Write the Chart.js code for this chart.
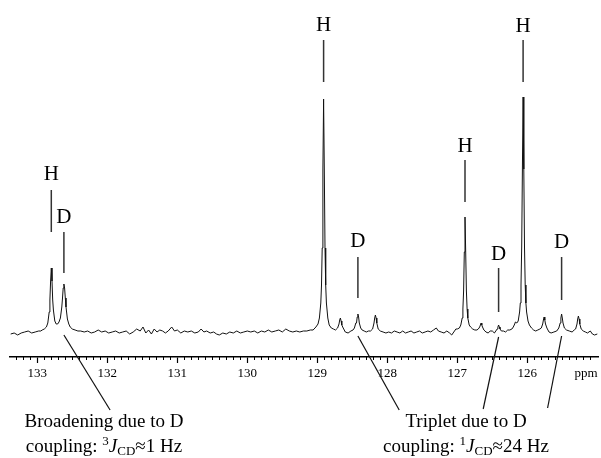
<!DOCTYPE html>
<html>
<head>
<meta charset="utf-8">
<script src="https://cdn.jsdelivr.net/npm/chart.js@4/dist/chart.umd.min.js"></script>
<style>
html,body{margin:0;padding:0;background:#fff;}
#wrap{width:601px;height:458px;}
</style>
</head>
<body>
<div id="wrap"><canvas id="c" width="601" height="458"></canvas></div>
<script>
// ---- data (chemical shift in ppm, intensity in arbitrary units) ----
const shiftPpm = [
133.38,133.33,133.28,133.23,133.18,133.13,133.08,133.03,132.98,132.95,
132.93,132.90,132.87,132.85,132.83,132.82,132.81,132.80,132.79,132.78,132.77,132.75,132.73,132.71,132.69,132.67,132.65,132.64,132.63,132.62,132.61,132.60,132.59,132.57,132.55,132.53,132.50,132.46,132.42,
132.38,132.33,132.28,132.23,132.18,132.13,132.08,132.03,131.98,131.93,131.88,131.83,131.78,131.73,131.68,131.63,131.58,131.53,131.49,131.45,131.41,131.37,131.33,131.29,131.25,131.21,131.17,131.13,131.08,131.04,131.00,
130.95,130.90,130.85,130.80,130.75,130.70,130.66,130.62,130.58,130.53,130.48,130.44,130.40,130.35,130.30,130.25,130.20,130.15,130.10,130.05,130.00,
129.95,129.90,129.85,129.80,129.75,129.70,129.65,129.60,129.55,129.50,129.45,129.40,129.35,129.30,129.25,129.20,129.15,129.10,129.06,
129.02,128.99,128.97,128.95,128.94,128.93,128.92,128.91,128.90,128.89,128.88,128.87,128.85,128.83,128.80,128.77,128.74,128.71,128.69,128.68,128.67,128.66,128.65,128.63,128.60,128.56,
128.52,128.49,128.47,128.45,128.44,128.43,128.42,128.41,128.40,128.38,128.36,128.33,128.30,128.27,128.24,128.21,128.19,128.18,128.17,128.16,128.15,128.13,128.10,128.06,128.02,
127.98,127.94,127.90,127.86,127.82,127.78,127.74,127.70,127.66,127.62,127.58,127.54,127.50,127.46,127.42,127.38,127.34,127.30,127.27,127.23,127.19,127.15,127.11,127.08,127.05,127.02,
127.00,126.97,126.95,126.93,126.92,126.91,126.90,126.89,126.88,126.87,126.86,126.85,126.83,126.81,126.78,126.75,126.72,126.70,126.68,126.67,126.66,126.65,126.64,126.62,126.59,126.56,
126.53,126.50,126.47,126.45,126.43,126.42,126.41,126.40,126.39,126.37,126.34,126.31,126.28,126.25,126.22,126.20,126.18,126.17,126.15,126.13,126.11,126.10,126.09,126.08,126.07,126.06,126.05,126.04,126.03,126.02,126.01,125.99,125.97,125.94,125.91,125.88,125.85,125.82,
125.80,125.78,125.77,125.76,125.75,125.74,125.72,125.69,125.66,125.62,125.58,125.55,125.53,125.52,125.51,125.50,125.49,125.47,125.44,125.40,125.36,125.33,125.31,125.29,125.28,125.27,125.26,125.25,125.23,125.20,125.17,125.14,125.10,125.07,125.04,125.00
];
const intensity = [
-2,-1,-3,-1,0,1,-1,0,1,1,
2,3,5,9,20,32,51,64,51,32,22,11,8,8,10,14,25,34,44,48,44,34,25,13,8,5,3,2,1,
1,0,1,-1,0,2,0,1,-1,0,1,-1,0,1,-2,0,3,1,5,-1,2,-2,3,0,2,1,-1,1,5,1,2,
-1,1,0,1,-1,0,3,0,1,-1,0,-2,-3,-1,-2,0,-1,1,-1,0,1,
0,1,-1,1,0,2,0,1,2,0,3,1,0,1,0,1,1,2,2,
5,8,14,29,47,84,162,233,162,84,47,29,14,7,4,3,2,4,8,12,14,11,7,4,0,-1,
1,2,4,9,9,15,18,15,9,4,2,1,0,1,1,3,9,14,17,14,9,3,1,0,-1,
0,-1,1,0,-1,1,-1,0,1,-1,0,1,-1,0,1,0,2,4,1,0,-1,1,-1,-3,0,3,
3,4,7,14,23,41,80,115,80,41,23,14,7,5,3,2,2,3,5,7,9,7,5,2,0,-1,
1,1,-1,1,3,5,7,5,3,1,1,0,2,2,3,5,8,10,9,11,20,29,47,85,163,235,163,85,47,29,20,11,7,4,2,1,2,3,
4,8,12,15,12,8,4,0,-1,0,1,4,9,14,18,14,9,4,2,1,0,2,3,8,13,16,13,8,3,1,0,-1,1,-2,-3,-2
];

// axis tick labels
const tickValues = [133,132,131,130,129,128,127,126,125.16];
const tickLabels = ['133','132','131','130','129','128','127','126','ppm'];

// peak assignment labels
const markerPpm  = [132.80,132.62,128.91,128.42,126.89,126.41,126.06,125.51];
const markerText = ['H','D','H','D','H','D','H','D'];
const markerTextY = [152,109,301,85,180,72,300,84];
const markerLineTop = [142,100,292,75,172,64,292,75];
const markerLineBot = [100,59,250,34,130,20,250,32];

// callout lines (from ppm,intensity to ppm,intensity)
const calloutFrom = [[132.62,-3],[128.42,-4],[126.41,-5],[125.51,-4]];
const calloutTo   = [[131.96,-78],[127.83,-78],[126.63,-77],[125.71,-76]];

const points = shiftPpm.map((x,i)=>({x:x,y:intensity[i]}));
const SERIF = '"Liberation Serif","DejaVu Serif",serif';

function drawRuns(ctx, runs, cx, y){
  let total = 0;
  runs.forEach(r=>{ ctx.font = r.font; r.w = ctx.measureText(r.t).width; total += r.w; });
  let x = cx - total/2;
  ctx.textAlign = 'left';
  ctx.textBaseline = 'alphabetic';
  runs.forEach(r=>{ ctx.font = r.font; ctx.fillText(r.t, x, y + (r.dy||0)); x += r.w; });
}

const annot = {
  id:'annot',
  afterDraw(chart){
    const ctx = chart.ctx;
    const xs = chart.scales.x, ys = chart.scales.y;
    const area = chart.chartArea;
    ctx.save();
    // minor ticks every 0.1 ppm
    ctx.strokeStyle = '#000';
    ctx.lineWidth = 1;
    for (let k = 1250; k <= 1333; k++){
      if (k % 10 === 0) continue;
      const px = Math.round(xs.getPixelForValue(k/10)) + 0.5;
      ctx.beginPath();
      ctx.moveTo(px, area.bottom);
      ctx.lineTo(px, area.bottom + 3);
      ctx.stroke();
    }
    // markers
    ctx.fillStyle = '#000';
    ctx.font = '21px ' + SERIF;
    ctx.textAlign = 'center';
    ctx.textBaseline = 'alphabetic';
    markerPpm.forEach((p,i)=>{
      const px = xs.getPixelForValue(p);
      ctx.fillText(markerText[i], px, ys.getPixelForValue(markerTextY[i]));
      ctx.strokeStyle = '#333';
      ctx.lineWidth = 1.5;
      ctx.beginPath();
      ctx.moveTo(px, ys.getPixelForValue(markerLineTop[i]));
      ctx.lineTo(px, ys.getPixelForValue(markerLineBot[i]));
      ctx.stroke();
    });
    // callout lines
    ctx.strokeStyle = '#111';
    ctx.lineWidth = 1.2;
    calloutFrom.forEach((f,i)=>{
      const t = calloutTo[i];
      ctx.beginPath();
      ctx.moveTo(xs.getPixelForValue(f[0]), ys.getPixelForValue(f[1]));
      ctx.lineTo(xs.getPixelForValue(t[0]), ys.getPixelForValue(t[1]));
      ctx.stroke();
    });
    // captions
    ctx.fillStyle = '#000';
    const N = '19px ' + SERIF, I = 'italic 19px ' + SERIF, S = '13px ' + SERIF;
    drawRuns(ctx, [{t:'Broadening due to D', font:N}], 104, 427);
    drawRuns(ctx, [{t:'coupling: ', font:N},{t:'3', font:S, dy:-7},{t:'J', font:I},{t:'CD', font:S, dy:3},{t:'\u22481 Hz', font:N}], 104, 452);
    drawRuns(ctx, [{t:'Triplet due to D', font:N}], 466, 427);
    drawRuns(ctx, [{t:'coupling: ', font:N},{t:'1', font:S, dy:-7},{t:'J', font:I},{t:'CD', font:S, dy:3},{t:'\u224824 Hz', font:N}], 466, 452);
    ctx.restore();
  }
};

new Chart(document.getElementById('c'), {
  type:'line',
  data:{ datasets:[{ data: points, borderColor:'#111', borderWidth:1, pointRadius:0, tension:0, fill:false }] },
  options:{
    responsive:false, animation:false, devicePixelRatio:1,
    layout:{ padding:{ left:10, right:3, top:0, bottom:0 } },
    plugins:{ legend:{display:false}, tooltip:{enabled:false}, title:{display:false} },
    scales:{
      x:{
        type:'linear', reverse:true, min:124.99, max:133.39,
        afterBuildTicks: s => { s.ticks = tickValues.map(v=>({value:v})); },
        afterFit: s => { s.height = 101; },
        ticks:{ autoSkip:false, maxRotation:0, color:'#000', padding:3,
          font:{ family:SERIF, size:13 },
          callback: (v) => { const i = tickValues.indexOf(v); return i>=0 ? tickLabels[i] : ''; } },
        grid:{ drawOnChartArea:false, drawTicks:true, tickLength:6, tickWidth:1.2,
          tickColor: c => (c.tick && c.tick.value === 125.16) ? 'rgba(0,0,0,0)' : '#000' },
        border:{ display:true, color:'#000', width:1.5 }
      },
      y:{ display:false, min:-25, max:332 }
    }
  },
  plugins:[annot]
});
</script>
</body>
</html>
